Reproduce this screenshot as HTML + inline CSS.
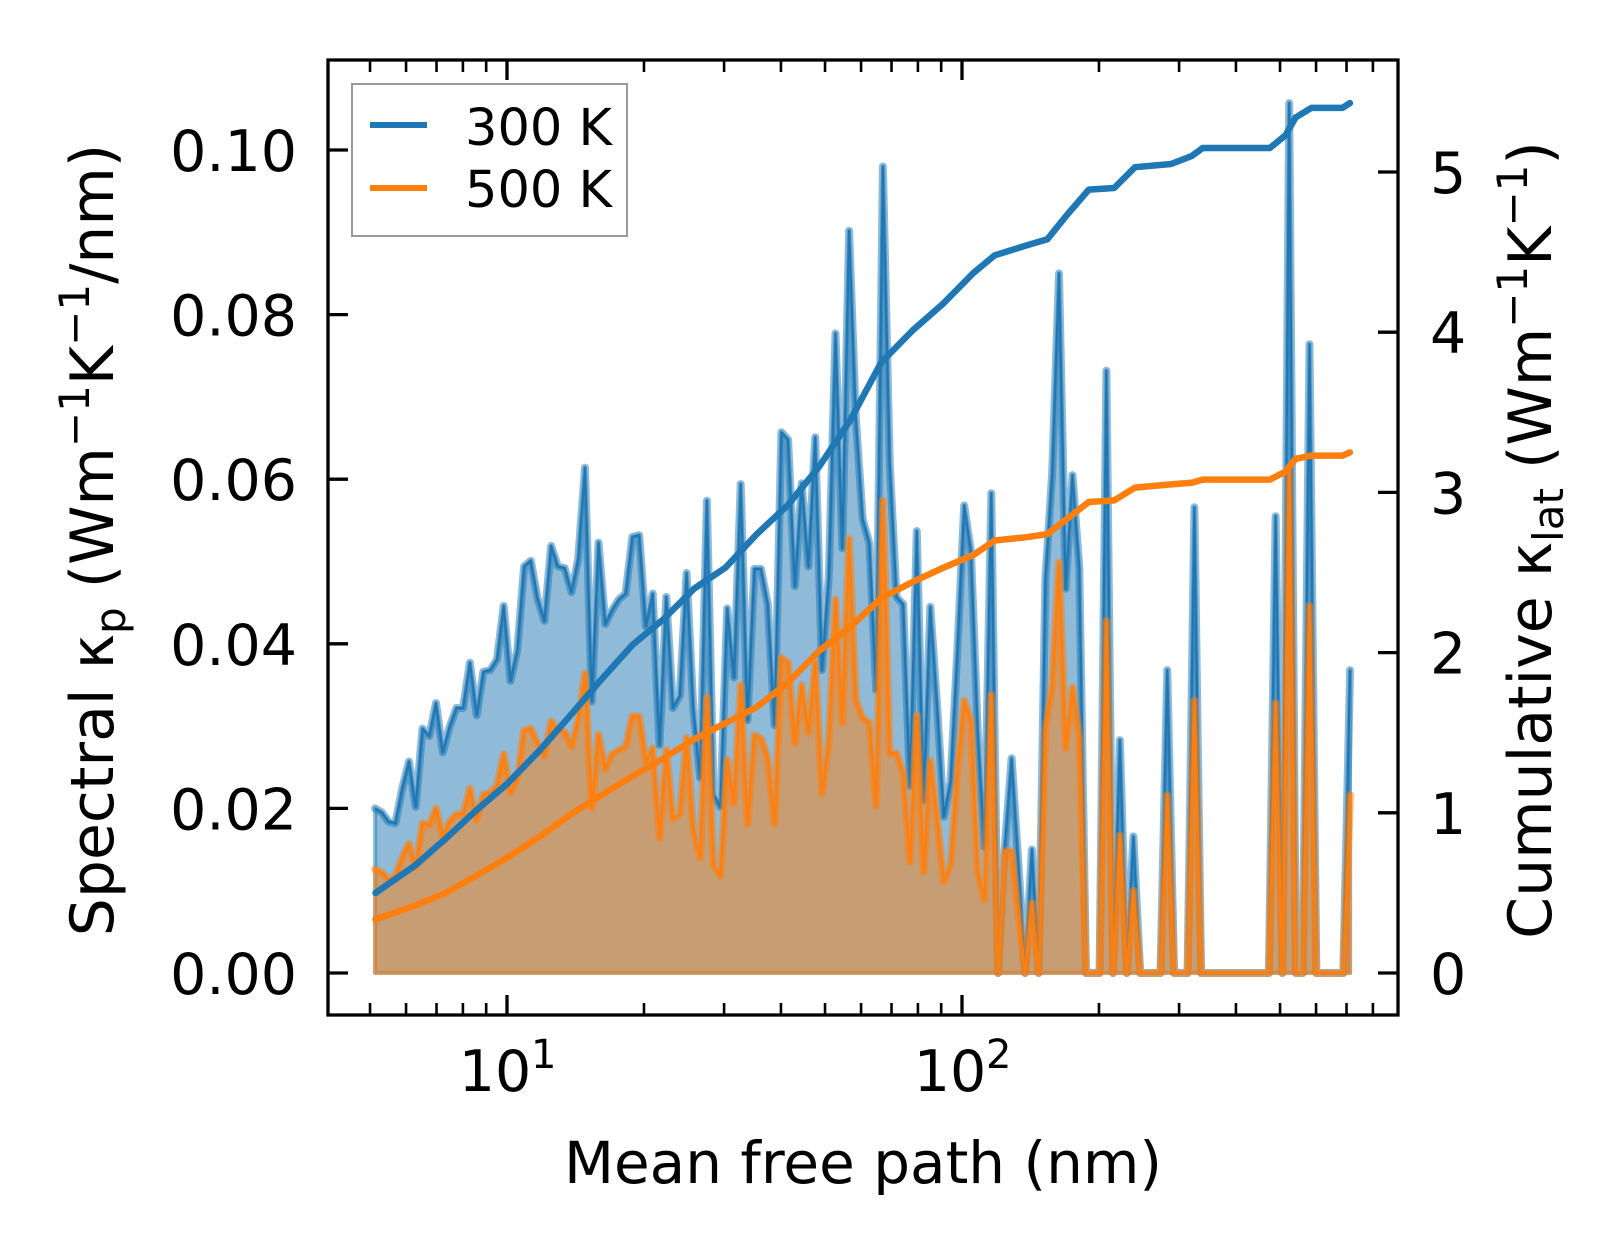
<!DOCTYPE html>
<html><head><meta charset="utf-8"><style>
html,body{margin:0;padding:0;background:#fff}
svg{display:block;font-family:"DejaVu Sans","Liberation Sans",sans-serif}
</style></head><body>
<svg id="chart" width="1623" height="1254" viewBox="0 0 1623 1254" xmlns="http://www.w3.org/2000/svg">
<rect x="0" y="0" width="1623" height="1254" fill="#fff"/>
<g id="plot"></g>
<g id="axes"></g>
<g id="legend">
  <rect x="352" y="84" width="275" height="152" fill="#fff" fill-opacity="0.8" stroke="#999" stroke-width="2"/>
  <line x1="370" y1="125" x2="427" y2="125" stroke="#1f77b4" stroke-width="6"/>
  <text x="465" y="145" font-size="51" fill="#000">300 K</text>
  <line x1="370" y1="188" x2="427" y2="188" stroke="#ff7f0e" stroke-width="6"/>
  <text x="465" y="207" font-size="51" fill="#000">500 K</text>
</g>
<text x="863" y="1183" font-size="58" text-anchor="middle">Mean free path (nm)</text>
<text transform="translate(113,540) rotate(-90)" font-size="60" text-anchor="middle">Spectral κ<tspan font-size="42" dy="12">p</tspan><tspan dy="-12"> (Wm</tspan><tspan font-size="42" dy="-24">−1</tspan><tspan dy="24">K</tspan><tspan font-size="42" dy="-24">−1</tspan><tspan dy="24">/nm)</tspan></text>
<text transform="translate(1551,540) rotate(-90)" font-size="60" text-anchor="middle">Cumulative κ<tspan font-size="42" dy="12">lat</tspan><tspan dy="-12"> (Wm</tspan><tspan font-size="42" dy="-24">−1</tspan><tspan dy="24">K</tspan><tspan font-size="42" dy="-24">−1</tspan><tspan dy="24">)</tspan></text>
</svg>
<script>
// ---- data ----
const mfpStart = 5.13;      // first bin mean free path (nm)
const mfpLogStep = 0.014881; // log10 spacing of bins
const spectral300 = [
0.0200,0.0195,0.0184,0.0182,0.0224,0.0257,0.0202,0.0297,0.0288,0.0328,
0.0268,0.0299,0.0322,0.0322,0.0377,0.0313,0.0366,0.0368,0.0381,0.0446,
0.0355,0.0392,0.0494,0.0501,0.0455,0.0428,0.0519,0.0494,0.0492,0.0463,
0.0503,0.0614,0.0330,0.0523,0.0424,0.0441,0.0454,0.0461,0.0530,0.0532,
0.0421,0.0461,0.0277,0.0457,0.0322,0.0337,0.0486,0.0322,0.0237,0.0574,
0.0217,0.0202,0.0443,0.0359,0.0594,0.0307,0.0491,0.0491,0.0448,0.0301,
0.0657,0.0648,0.0470,0.0595,0.0494,0.0651,0.0368,0.0482,0.0777,0.0516,
0.0902,0.0675,0.0552,0.0522,0.0344,0.0980,0.0620,0.0457,0.0448,0.0227,
0.0537,0.0209,0.0445,0.0325,0.0190,0.0233,0.0393,0.0568,0.0513,0.0295,
0.0153,0.0583,0,0.0153,0.0261,0.0135,0,0.0150,0,0.0479,
0.0608,0.0850,0.0467,0.0605,0.0492,0,0,0,0.0732,0,
0.0283,0,0.0166,0,0,0,0,0.0368,0,0,
0,0.0566,0,0,0,0,0,0,0,0,
0,0,0,0.0555,0,0.1057,0,0,0.0764,0,
0,0,0,0,0.0368];
const spectral500 = [
0.0126,0.0122,0.0113,0.0118,0.0140,0.0157,0.0129,0.0182,0.0180,0.0200,
0.0166,0.0184,0.0193,0.0193,0.0224,0.0186,0.0217,0.0219,0.0228,0.0266,
0.0219,0.0237,0.0295,0.0297,0.0279,0.0264,0.0306,0.0295,0.0293,0.0275,
0.0308,0.0364,0.0200,0.0290,0.0248,0.0266,0.0271,0.0275,0.0312,0.0312,
0.0257,0.0273,0.0164,0.0271,0.0188,0.0193,0.0286,0.0175,0.0140,0.0335,
0.0131,0.0118,0.0259,0.0206,0.0350,0.0181,0.0289,0.0285,0.0261,0.0181,
0.0383,0.0377,0.0279,0.0350,0.0292,0.0377,0.0218,0.0282,0.0454,0.0304,
0.0528,0.0332,0.0310,0.0304,0.0203,0.0574,0.0267,0.0267,0.0243,0.0135,
0.0313,0.0123,0.0258,0.0187,0.0111,0.0132,0.0246,0.0331,0.0307,0.0123,
0.0089,0.0338,0,0.0148,0.0148,0.0071,0,0.0085,0,0.0295,
0.0350,0.0499,0.0273,0.0347,0.0287,0,0,0,0.0428,0,
0.0167,0,0.0100,0,0,0,0,0.0216,0,0,
0,0.0331,0,0,0,0,0,0,0,0,
0,0,0,0.0328,0,0.0615,0,0,0.0446,0,
0,0,0,0,0.0216];
const cumMfp = [5.14,6.27,7.34,8.59,10,11.8,13.8,16.1,18.9,22.1,25.8,30.2,35.4,41.4,48.5,56.8,66.4,77.8,91.0,106,118,138,154,171,190,216,240,288,320,338,475,514,541,586,686,712];
const cum300 = [0.50,0.67,0.84,1.02,1.18,1.39,1.61,1.83,2.05,2.21,2.40,2.53,2.74,2.92,3.16,3.45,3.81,4.01,4.18,4.37,4.48,4.54,4.58,4.74,4.89,4.90,5.03,5.05,5.10,5.15,5.15,5.23,5.34,5.40,5.40,5.43];
const cum500 = [0.335,0.42,0.50,0.61,0.72,0.85,0.99,1.11,1.23,1.34,1.46,1.56,1.66,1.81,2.01,2.16,2.34,2.44,2.53,2.61,2.70,2.72,2.74,2.84,2.94,2.95,3.03,3.05,3.06,3.08,3.08,3.13,3.21,3.23,3.23,3.25];
const leftTicks = [0, 0.02, 0.04, 0.06, 0.08, 0.10];
const leftTickLabels = ["0.00","0.02","0.04","0.06","0.08","0.10"];
const rightTicks = [0,1,2,3,4,5];
const xMajor = [10, 100];
const xMajorExp = ["1","2"];

// ---- scales ----
const L=328, R=1398, T=60, B=1015;
function X(nm){ return 507 + (Math.log10(nm)-1)*455; }
function YL(v){ return 973 - v*8230; }
function YR(v){ return 973 - v*160.2; }
const NS="http://www.w3.org/2000/svg";
function mk(tag, attrs, parent){ const e=document.createElementNS(NS,tag); for(const k in attrs) e.setAttribute(k,attrs[k]); parent.appendChild(e); return e; }
const plot=document.getElementById('plot');
const axes=document.getElementById('axes');
const mfpBins = spectral300.map((_,i)=>mfpStart*Math.pow(10,i*mfpLogStep));

function drawSpectral(vals, color, name){
  const pts = vals.map((v,i)=>X(mfpBins[i]).toFixed(1)+','+YL(v).toFixed(1));
  const x0=X(mfpBins[0]).toFixed(1), xN=X(mfpBins[vals.length-1]).toFixed(1), y0=YL(0).toFixed(1);
  const fill = mk('polygon',{points: x0+','+y0+' '+pts.join(' ')+' '+xN+','+y0, fill:color, 'fill-opacity':0.5, stroke:color, 'stroke-opacity':0.5, 'stroke-width':4, 'stroke-linejoin':'round'}, plot);
  
  
  const thick = mk('polyline',{points:pts.join(' '), fill:'none', stroke:color, 'stroke-opacity':0.5, 'stroke-width':8, 'stroke-linejoin':'round','stroke-linecap':'round'}, plot);
  
  
  const thin = mk('polyline',{points:pts.join(' '), fill:'none', stroke:color, 'stroke-width':2.2, 'stroke-linejoin':'round'}, plot);
  
  
}
drawSpectral(spectral300,'#1f77b4','spectral-300k');
drawSpectral(spectral500,'#ff7f0e','spectral-500k');

function drawCum(vals,color,name){
  const pts = vals.map((v,i)=>X(cumMfp[i]).toFixed(1)+','+YR(v).toFixed(1)).join(' ');
  const l = mk('polyline',{points:pts, fill:'none', stroke:color, 'stroke-width':6.5, 'stroke-linejoin':'round','stroke-linecap':'round'}, plot);
  
  
}
drawCum(cum300,'#1f77b4','cumulative-300k-line');
drawCum(cum500,'#ff7f0e','cumulative-500k-line');

// frame
const frame = mk('rect',{x:L,y:T,width:R-L,height:B-T,fill:'none',stroke:'#000','stroke-width':3.3}, axes);



// left ticks
leftTicks.forEach((v,i)=>{
  const y=YL(v);
  const t=mk('line',{x1:L,y1:y,x2:L+20,y2:y,stroke:'#000','stroke-width':3.3},axes);
  
  
  const lb=mk('text',{x:297,y:y+21,'font-size':57,'text-anchor':'end'},axes);
  lb.textContent=leftTickLabels[i];
  
  
});
// right ticks
rightTicks.forEach(v=>{
  const y=YR(v);
  const t=mk('line',{x1:R-20,y1:y,x2:R,y2:y,stroke:'#000','stroke-width':3.3},axes);
  
  
  const lb=mk('text',{x:1430,y:y+21,'font-size':57},axes);
  lb.textContent=String(v);
  
  
});
// x ticks
xMajor.forEach((v,i)=>{
  const x=X(v);
  [[B,B-20],[T,T+20]].forEach(p=>{
    const t=mk('line',{x1:x,y1:p[0],x2:x,y2:p[1],stroke:'#000','stroke-width':3.3},axes);
    
    
  });
  const lb=mk('text',{x:x-12,y:1091,'font-size':57,'text-anchor':'middle'},axes);
  lb.textContent='10';
  
  
  const sp=mk('text',{x:x+24,y:1068,'font-size':40},axes);
  sp.textContent=xMajorExp[i];
  
  
});
[5,6,7,8,9,20,30,40,50,60,70,80,90,200,300,400,500,600,700,800].forEach(v=>{
  const x=X(v);
  [[B,B-12],[T,T+12]].forEach(p=>{
    const t=mk('line',{x1:x,y1:p[0],x2:x,y2:p[1],stroke:'#000','stroke-width':2.6},axes);
    
    
  });
});
</script>
</body></html>
